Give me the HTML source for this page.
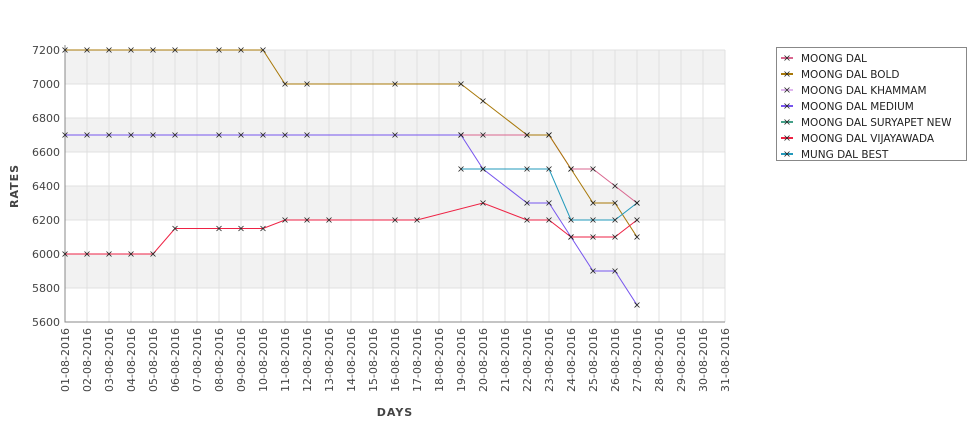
<!DOCTYPE html>
<html><head><meta charset="utf-8"><style>
body{margin:0;background:#fff;font-family:"DejaVu Sans","Liberation Sans",sans-serif}
</style></head><body>
<svg id="c" width="975" height="429" xmlns="http://www.w3.org/2000/svg" font-family="DejaVu Sans, Liberation Sans, sans-serif"></svg>
<script>
const days=[];for(let d=1;d<=31;d++)days.push((d<10?'0':'')+d+'-08-2016');
const yTicks=[5600,5800,6000,6200,6400,6600,6800,7000,7200];
const seriesNames=['MOONG DAL','MOONG DAL BOLD','MOONG DAL KHAMMAM','MOONG DAL MEDIUM','MOONG DAL SURYAPET NEW','MOONG DAL VIJAYAWADA','MUNG DAL BEST'];
const seriesColors=['#d9668f','#a87808','#dfb6ee','#7755ee','#44a088','#ee2244','#2299bb'];
const moongDal=[[19,6700],[20,6700],[22,6700],[23,6700],[24,6500],[25,6500],[26,6400],[27,6300]];
const moongDalBold=[[1,7200],[2,7200],[3,7200],[4,7200],[5,7200],[6,7200],[8,7200],[9,7200],[10,7200],[11,7000],[12,7000],[16,7000],[19,7000],[20,6900],[22,6700],[23,6700],[24,6500],[25,6300],[26,6300],[27,6100]];
const moongDalKhammam=[];
const moongDalMedium=[[1,6700],[2,6700],[3,6700],[4,6700],[5,6700],[6,6700],[8,6700],[9,6700],[10,6700],[11,6700],[12,6700],[16,6700],[19,6700],[20,6500],[22,6300],[23,6300],[24,6100],[25,5900],[26,5900],[27,5700]];
const moongDalSuryapet=[];
const moongDalVijayawada=[[1,6000],[2,6000],[3,6000],[4,6000],[5,6000],[6,6150],[8,6150],[9,6150],[10,6150],[11,6200],[12,6200],[13,6200],[16,6200],[17,6200],[20,6300],[22,6200],[23,6200],[24,6100],[25,6100],[26,6100],[27,6200]];
const mungDalBest=[[19,6500],[20,6500],[22,6500],[23,6500],[24,6200],[25,6200],[26,6200],[27,6300]];
const seriesData=[moongDal,moongDalBold,moongDalKhammam,moongDalMedium,moongDalSuryapet,moongDalVijayawada,mungDalBest];

const svg=document.getElementById('c');const NS='http://www.w3.org/2000/svg';
const L=65,R=725,T=50,B=322,yMin=5600,yMax=7200;
const xs=d=>L+(d-1)*(R-L)/30, ys=v=>B-(v-yMin)*(B-T)/(yMax-yMin);
function el(t,a,p){const e=document.createElementNS(NS,t);for(const k in a)e.setAttribute(k,a[k]);(p||svg).appendChild(e);return e;}
for(let i=0;i<yTicks.length-1;i++){if(i%2===1){const r=el('rect',{x:L,y:ys(yTicks[i+1]),width:R-L,height:ys(yTicks[i])-ys(yTicks[i+1]),fill:'#f2f2f2'});

}}
days.forEach((d,i)=>{const g=el('line',{x1:xs(i+1),x2:xs(i+1),y1:T,y2:B,stroke:'#e0e0e0'});


const t=el('text',{x:0,y:0,'font-size':11,fill:'#444','text-anchor':'end',transform:`translate(${xs(i+1)+4},${B+6}) rotate(-90)`});t.textContent=d;

});
yTicks.forEach(v=>{const g=el('line',{x1:L,x2:R,y1:ys(v),y2:ys(v),stroke:'#e0e0e0'});


const t=el('text',{x:L-5,y:ys(v)+4,'font-size':11,fill:'#444','text-anchor':'end'});t.textContent=v;

});
const ax=el('path',{d:`M${L},${T-5}V${B}H${R}`,stroke:'#888',fill:'none'});


const yt=el('text',{x:0,y:0,'font-size':11,'font-weight':'bold',fill:'#444','text-anchor':'middle',transform:`translate(18,${(T+B)/2}) rotate(-90)`,'letter-spacing':'1'});yt.textContent='RATES';


const xt=el('text',{x:395,y:416,'font-size':11,'font-weight':'bold',fill:'#444','text-anchor':'middle','letter-spacing':'1'});xt.textContent='DAYS';


function mark(x,y,p){const m=el('path',{d:`M${x-2.5},${y-2.5}L${x+2.5},${y+2.5}M${x-2.5},${y+2.5}L${x+2.5},${y-2.5}`,stroke:'#222','stroke-width':0.8},p);

}
seriesData.forEach((s,i)=>{if(!s.length)return;const g=el('g',{});


const pl=el('polyline',{points:s.map(p=>xs(p[0])+','+ys(p[1])).join(' '),fill:'none',stroke:seriesColors[i],'stroke-width':1},g);


s.forEach(p=>mark(xs(p[0]),ys(p[1]),g));});
const lg=el('g',{});


el('rect',{x:776.5,y:47.5,width:190,height:113,fill:'#fff',stroke:'#888'},lg);
seriesNames.forEach((n,i)=>{const y=58+i*16;const e=el('g',{},lg);


el('line',{x1:781,x2:793,y1:y,y2:y,stroke:seriesColors[i],'stroke-width':2},e);mark(787,y,e);
const t=el('text',{x:801,y:y+4,'font-size':10.5,fill:'#222'},e);t.textContent=n;});
</script>
</body></html>
